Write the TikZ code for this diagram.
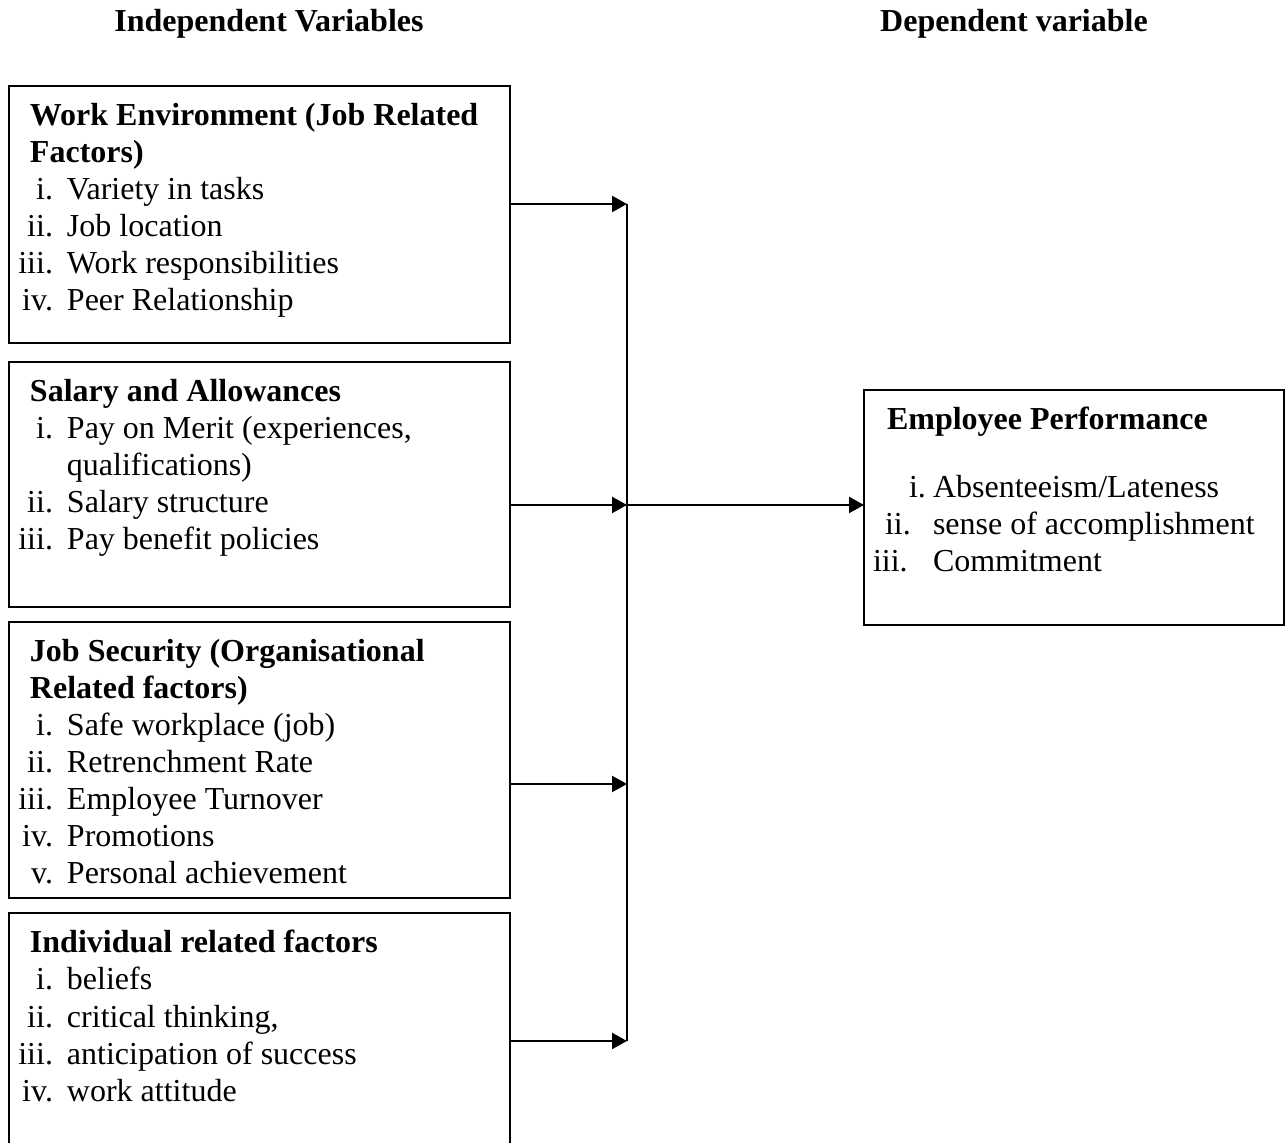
\documentclass[tikz,border=0pt]{standalone}
\usepackage{fontspec}
\setmainfont{Liberation Serif}
\usetikzlibrary{arrows.meta}

% one pixel of the layout grid
\newdimen\pxu \pxu=0.375pt
% box title, numbered item, item of the result box
\newcommand{\ttl}[1]{\hspace*{21\pxu}\textbf{#1}}
\newcommand{\itm}[2]{\makebox[44\pxu][r]{#1}\hspace{14\pxu}#2}
\newcommand{\ritm}[3]{\makebox[69\pxu][l]{\hspace*{#1\pxu}#2}#3}
% body of a box: width, height, lines
\newcommand{\fbody}[3]{\parbox[c][#2\pxu][t]{#1\pxu}{\rule{0pt}{40\pxu}#3}}

\tikzset{
  factor/.style={draw, line width=0.75pt, inner sep=0pt, outer sep=0pt, anchor=north west},
  link/.style={line width=0.75pt, -{Triangle[length=5.6pt,width=6pt]}}
}

\begin{document}
\begin{tikzpicture}[x=0.375pt, y=-0.375pt, font=\fontsize{12pt}{13.875pt}\selectfont]
\useasboundingbox (0,0) rectangle (1286,1143);

% Column headings
\node[anchor=base, font=\fontsize{12pt}{13.875pt}\selectfont\bfseries] (indep) at (269,32) {Independent Variables};
\node[anchor=base, font=\fontsize{12pt}{13.875pt}\selectfont\bfseries] (dep) at (1014,32) {Dependent variable};

% Independent variables
\node[factor] (workenv) at (9,86) {\fbody{501}{257}{%
  \ttl{Work Environment (Job Related}\\
  \ttl{Factors)}\\
  \itm{i.}{Variety in tasks}\\
  \itm{ii.}{Job location}\\
  \itm{iii.}{Work responsibilities}\\
  \itm{iv.}{Peer Relationship}}};

\node[factor] (salary) at (9,362) {\fbody{501}{245}{%
  \ttl{Salary and Allowances}\\
  \itm{i.}{Pay on Merit (experiences,}\\
  \itm{}{qualifications)}\\
  \itm{ii.}{Salary structure}\\
  \itm{iii.}{Pay benefit policies}}};

\node[factor] (security) at (9,622) {\fbody{501}{276}{%
  \ttl{Job Security (Organisational}\\
  \ttl{Related factors)}\\
  \itm{i.}{Safe workplace (job)}\\
  \itm{ii.}{Retrenchment Rate}\\
  \itm{iii.}{Employee Turnover}\\
  \itm{iv.}{Promotions}\\
  \itm{v.}{Personal achievement}}};

\node[factor] (individual) at (9,913) {\fbody{501}{245}{%
  \ttl{Individual related factors}\\
  \itm{i.}{beliefs}\\
  \itm{ii.}{critical thinking,}\\
  \itm{iii.}{anticipation of success}\\
  \itm{iv.}{work attitude}}};

% Dependent variable
\node[factor] (perf) at (864,390) {\fbody{420}{235}{%
  \hspace*{23\pxu}\textbf{Employee Performance}\\[31\pxu]
  \ritm{45}{i.}{Absenteeism/Lateness}\\
  \ritm{21}{ii.}{sense of accomplishment}\\
  \ritm{9}{iii.}{Commitment}}};

% Collecting line
\coordinate (bus1) at (627,204);
\coordinate (bus2) at (627,505);
\coordinate (bus3) at (627,784);
\coordinate (bus4) at (627,1041);
\draw[line width=0.75pt] (bus1) -- (bus4);

% Arrows into the collecting line
\draw[link] (bus1 -| workenv.east) -- (bus1);
\draw[link] (bus2 -| salary.east) -- (bus2);
\draw[link] (bus3 -| security.east) -- (bus3);
\draw[link] (bus4 -| individual.east) -- (bus4);

% Arrow to the dependent variable
\draw[link] (bus2) -- (bus2 -| perf.west);
\end{tikzpicture}
\end{document}
